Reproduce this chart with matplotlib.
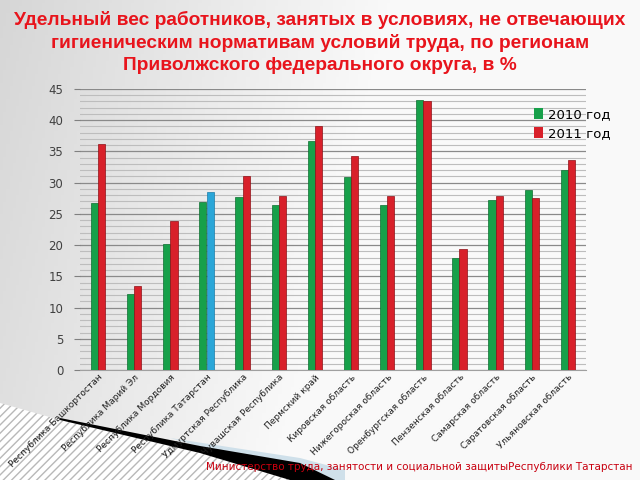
import numpy as np
import matplotlib
matplotlib.use("Agg")
import matplotlib.pyplot as plt
from matplotlib.patches import Polygon, Patch
from matplotlib.ticker import MultipleLocator

regions = [
    "Республика Башкортостан", "Республика Марий Эл", "Республика Мордовия",
    "Республика Татарстан", "Удмуртская Республика", "Чувашская Республика",
    "Пермский край", "Кировская область", "Нижегороская область",
    "Оренбургская область", "Пензенская область", "Самарская область",
    "Саратовская область", "Ульяновская область",
]
y2010 = [26.7, 12.1, 20.2, 26.9, 27.7, 26.4, 36.7, 30.9, 26.4, 43.3, 17.9, 27.3, 28.8, 32.0]
y2011 = [36.2, 13.4, 23.9, 28.5, 31.1, 27.8, 39.1, 34.2, 27.8, 43.0, 19.4, 27.8, 27.6, 33.7]

GREEN = "#17a04a"
RED = "#d8202a"
BLUE = "#2aa6d8"


def px(xp, yp):
    # pixel coords (from top-left) -> figure fraction
    return (xp / 640, 1 - yp / 480)


fig = plt.figure(figsize=(6.4, 4.8), dpi=100)

# background gradient
bg = fig.add_axes([0, 0, 1, 1], zorder=-10)
gx, gy = np.meshgrid(np.linspace(0, 1, 200), np.linspace(0, 1, 150))
grad = 0.84 + 0.14 * np.clip(gx * 1.6 + gy * 0.3, 0, 1)
bg.imshow(np.dstack([grad, grad, grad]), extent=[0, 1, 0, 1], aspect="auto", origin="upper")
bg.set_xlim(0, 1)
bg.set_ylim(0, 1)
# decoration bottom-left
bg.add_patch(Polygon([px(0, 403), px(60, 420), px(200, 453), px(290, 480), px(0, 480)],
                     closed=True, facecolor="white", edgecolor="#b8b8b8", hatch="////", lw=0))
bg.add_patch(Polygon([px(170, 438), px(300, 458), px(345, 470), px(345, 480), px(320, 480)],
                     closed=True, facecolor="#cfe0ea", lw=0))
bg.add_patch(Polygon([px(60, 418), px(200, 446), px(300, 463), px(335, 480), px(290, 480),
                      px(200, 453), px(60, 420)], closed=True, facecolor="black", lw=0))
bg.axis("off")

ax = fig.add_axes([80 / 640, 1 - 370 / 480, 506 / 640, 281 / 480])
ax.set_facecolor("none")
x = np.arange(len(regions))
w = 0.2
ax.bar(x - w / 2, y2010, w, color=GREEN, edgecolor="#0d6e30", linewidth=0.5, zorder=3)
colors2011 = [BLUE if r == "Республика Татарстан" else RED for r in regions]
edges2011 = ["#1a7ca8" if r == "Республика Татарстан" else "#8e1016" for r in regions]
ax.bar(x + w / 2, y2011, w, color=colors2011, edgecolor=edges2011, linewidth=0.5, zorder=3)

ax.set_xlim(-0.5, len(regions) - 0.5)
ax.set_ylim(0, 45)
ax.yaxis.set_major_locator(MultipleLocator(5))
ax.yaxis.set_minor_locator(MultipleLocator(1))
ax.grid(which="major", axis="y", color="#8a8a8a", lw=0.9, zorder=0)
ax.grid(which="minor", axis="y", color="#bdbdbd", lw=0.8, zorder=0)
for s in ["top", "right", "left"]:
    ax.spines[s].set_visible(False)
ax.spines["bottom"].set_color("#a0a0a0")
ax.tick_params(axis="y", which="major", length=4, color="#808080", labelsize=8.5,
               labelcolor="#404040", pad=8)
ax.tick_params(axis="y", which="minor", length=0)
ax.tick_params(axis="x", length=0, pad=2)
ax.set_xticks(x)
ax.set_xticklabels(regions, rotation=45, ha="right", rotation_mode="anchor",
                   fontsize=6.5, color="#202020")

handles = [Patch(facecolor=GREEN), Patch(facecolor=RED)]
fig.legend(handles, ["2010 год", "2011 год"], loc="upper left",
           bbox_to_anchor=px(522, 96), frameon=False, fontsize=9.5,
           handlelength=0.7, handleheight=0.9, handletextpad=0.4, labelspacing=0.5)

fig.text(0.5, 1 - 11 / 480,
         "Удельный вес работников, занятых в условиях, не отвечающих\n"
         "гигиеническим нормативам условий труда, по регионам\n"
         "Приволжского федерального округа, в %",
         ha="center", va="top", fontsize=13.8, fontweight="bold", color="#e8141c",
         family="Liberation Sans", linespacing=1.35)
fig.text(632 / 640, 1 - 467 / 480,
         "Министерство труда, занятости и социальной защитыРеспублики Татарстан",
         ha="right", va="center", fontsize=7.5, color="#c8000f")

fig.savefig("out.png", dpi=100)
